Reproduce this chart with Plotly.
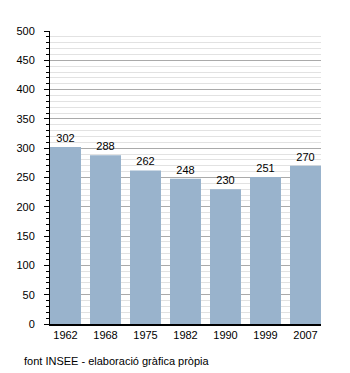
import plotly.graph_objects as go

years = ["1962", "1968", "1975", "1982", "1990", "1999", "2007"]
values = [302, 288, 262, 248, 230, 251, 270]
y_ticks = [0, 50, 100, 150, 200, 250, 300, 350, 400, 450, 500]

gap = 0.225
fig = go.Figure(go.Bar(
    x=years, y=values, marker_color="#99b3cc", marker_line_width=0,
    text=[str(v) for v in values], textposition="outside",
    textfont=dict(size=11, color="#000"), cliponaxis=False,
))
fig.update_layout(
    width=350, height=373, margin=dict(l=50, r=29, t=31, b=49),
    paper_bgcolor="white", plot_bgcolor="white",
    font=dict(family="Liberation Sans, Arial, sans-serif", size=11, color="#000"),
    bargap=gap, showlegend=False,
    xaxis=dict(type="category", range=[-0.5 + gap / 2, len(years) - 0.5 - gap / 2],
               showline=True, linecolor="#000", linewidth=1.5,
               ticks="", showgrid=False, tickfont=dict(size=11)),
    yaxis=dict(range=[0, 500], tickvals=y_ticks, showline=True, linecolor="#000",
               linewidth=1, ticks="outside", ticklen=5, tickcolor="#000",
               gridcolor="#aaaaaa", gridwidth=1, zeroline=False,
               ticklabelstandoff=7,
               minor=dict(dtick=10, ticks="outside", ticklen=3, tickcolor="#000",
                          showgrid=True, gridcolor="#e2e2e2", gridwidth=1),
               tickfont=dict(size=11)),
    annotations=[dict(text="font INSEE - elaboració gràfica pròpia",
                      xref="paper", yref="paper",
                      x=(22 - 50) / 271, y=(324 - 361) / 293,
                      xanchor="left", yanchor="middle",
                      showarrow=False, font=dict(size=11))],
)
fig.write_html("out.html")
